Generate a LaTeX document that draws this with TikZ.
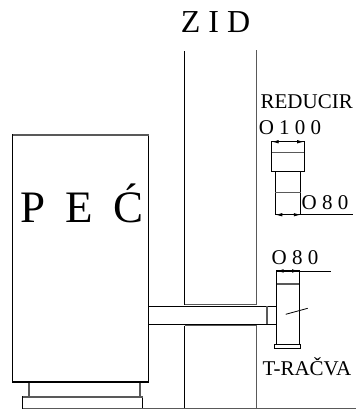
\documentclass[tikz,border=0pt]{standalone}
\usepackage{fontspec}
\setmainfont{Liberation Serif}
\usetikzlibrary{arrows.meta,positioning}
\begin{document}
\begin{tikzpicture}[x=1pt,y=-1pt]
\tikzstyle{label}=[inner sep=0pt,outer sep=0pt,font=\fontsize{21}{21}\selectfont]
\tikzstyle{part}=[draw=black,line width=1.1pt]
\tikzstyle{box}=[part,inner sep=0pt,outer sep=0pt]
\tikzstyle{greypart}=[draw=black!65,line width=1.4pt]
\tikzstyle{leader}=[draw=black,line width=0.8pt]
\tikzstyle{dim}=[leader,{Latex[length=7pt,width=3.5pt]}-{Latex[length=7pt,width=3.5pt]}]
\useasboundingbox (0,0) rectangle (356,410);

\coordinate (walltl) at (184.5,51);
\coordinate (wallpl) at (184.5,304.5);
\coordinate (wallql) at (184.5,325.5);
\coordinate (wallbl) at (184.5,408.5);
\coordinate (walltr) at (256.5,50);
\coordinate (wallpr) at (256.5,304.5);
\coordinate (wallqr) at (256.5,325.5);
\coordinate (wallbr) at (256.5,408.5);
\coordinate (floorl) at (22.5,408.5);
\coordinate (floorr) at (356,408.5);

% pec
\node[box,minimum width=136pt,minimum height=247pt] at (80.5,258.5) (pec) {};
\draw[greypart] (pec.north west) -- (pec.north east);
\node[box,minimum width=120pt,minimum height=11.5pt] at (82.5,402.7) (base) {};
\draw[greypart] (base.north west) -- (base.north east);
\draw[greypart] (29,382.5) -- (29,397);
\draw[greypart] (140,382.5) -- (140,397);
\node[font=\fontsize{45}{45}\selectfont,inner sep=0pt,anchor=base] at (82,222.7) (peclabel) {P\hspace{20pt}E\hspace{20pt}Ć};

% wall
\draw[part] (walltl) -- (wallpl);
\draw[part] (wallql) -- (wallbl);
\draw[greypart] (walltr) -- (wallpr);
\draw[greypart] (wallqr) -- (wallbr);
\draw[greypart] (floorl) -- (floorr);
\node[font=\fontsize{32}{32}\selectfont,inner sep=0pt] at (215.5,22.5) (zid) {Z I D};

% pipe
\draw[part,line width=0.9pt] (148.5,306) -- (276.5,306);
\draw[part,line width=0.9pt] (148.5,324) -- (276.5,324);
\draw[greypart] (267,306) -- (267,324);
\draw[greypart,line width=1pt] (wallpl) -- (wallpr);
\draw[greypart,line width=1pt] (wallql) -- (wallqr);

% t-racva
\node[box,minimum width=22.5pt,minimum height=73.5pt] at (287.8,307.7) (tee) {};
\draw[greypart] (tee.north west)++(0,13) -- ++(22.5,0);
\node[box,fill=white,minimum width=25.5pt,minimum height=4pt] at (287.5,346.5) (teecap) {};
\draw[leader] (285.7,314.3) -- (307.7,308.3);
\draw[dim] (tee.north west) -- (tee.north east);
\draw[leader] (tee.north east) -- ++(32,0);
\node[label] at (295,258) (o80a) {O 8 0};
\node[label] at (307,367) (racva) {T-RAČVA};

% reducir
\node[box,minimum width=32.5pt,minimum height=29.3pt] at (287.9,156.4) (redtop) {};
\node[box,minimum width=25.5pt,minimum height=43.7pt] at (288,192.9) (redbot) {};
\draw[greypart] (redtop.north west)++(0,10.5) -- ++(32.5,0);
\draw[greypart] (redbot.north west)++(0,21.7) -- ++(25.5,0);
\draw[dim] (redtop.north west) -- (redtop.north east);
\draw[dim] (redbot.south west) -- (redbot.south east);
\draw[leader] (redbot.south east) -- ++(52,0);
\node[label] at (306.7,101.7) (reducir) {REDUCIR};
\node[label] at (290,128) (o100) {O 1 0 0};
\node[label] at (325,203) (o80b) {O 8 0};
\end{tikzpicture}
\end{document}
